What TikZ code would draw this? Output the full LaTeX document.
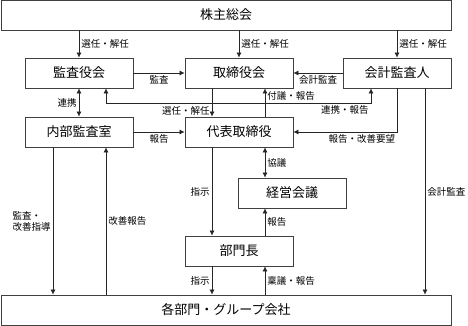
\documentclass[tikz,border=0pt]{standalone}
\usepackage{fontspec}
\setmainfont{Noto Sans CJK JP}
\usetikzlibrary{arrows.meta,positioning,calc}
\tikzset{
  orgbox/.style={draw=black!75, line width=0.8pt, minimum width=108pt, minimum height=30pt, inner sep=0pt, font=\fontsize{13}{15}\selectfont},
  widebox/.style={orgbox, minimum width=450pt},
  arrow/.style={-{Latex[length=5pt,width=5pt]}, line width=0.6pt, draw=black!85},
  dblarrow/.style={{Latex[length=5pt,width=5pt]}-{Latex[length=5pt,width=5pt]}, line width=0.6pt, draw=black!85},
  lbl/.style={font=\fontsize{9.5}{11}\selectfont, inner sep=2pt, align=left}
}

\begin{document}
\begin{tikzpicture}[x=1pt, y=-1pt]
\useasboundingbox (0,0) rectangle (468,326);
\node[widebox] (gm) at (226,15) {株主総会};
\node[orgbox] (kansa) at (79,73) {監査役会};
\node[orgbox] (tori) at (239,73) {取締役会};
\node[orgbox] (kaikei) at (397,73) {会計監査人};
\node[orgbox] (naibu) at (79,132) {内部監査室};
\node[orgbox] (daihyo) at (239,132) {代表取締役};
\node[orgbox] (keiei) at (292,193) {経営会議};
\node[orgbox] (bucho) at (239,251) {部門長};
\node[widebox] (kakubu) at (226,310) {各部門・グループ会社};
% 株主総会から
\draw[arrow] (gm.south -| kansa.north) -- (kansa.north) node[lbl, midway, right] (l1) {選任・解任};
\draw[arrow] (gm.south -| tori.north) -- (tori.north) node[lbl, midway, right] (l2) {選任・解任};
\draw[arrow] (gm.south -| kaikei.north) -- (kaikei.north) node[lbl, midway, right] (l3) {選任・解任};
% 監査
\draw[arrow] (kansa.east) -- (tori.west) node[lbl, midway, below] (l4) {監査};
\draw[arrow] (kaikei.west) -- (tori.east) node[lbl, midway, below] (l5) {会計監査};
\draw[dblarrow] (kansa.south) -- (naibu.north) node[lbl, midway, left] (l6) {連携};
\draw[arrow] ([xshift=-27pt]tori.south) -- ([xshift=-27pt]daihyo.north) node[lbl, pos=0.78, left] (l7) {選任・解任};
\draw[arrow] ([xshift=26pt]daihyo.north) -- ([xshift=26pt]tori.south) node[lbl, pos=0.72, right] (l8) {付議・報告};
\draw[dblarrow] ([xshift=27pt]kansa.south) -- ++(0,15) coordinate (c1) -| ([xshift=-26pt]kaikei.south) node[lbl, pos=0.5, below left] (l9) {連携・報告};
\draw[arrow] (kaikei.south) |- (daihyo.east) node[lbl, pos=0.67, below] (l10) {報告・改善要望};
\draw[arrow] (naibu.east) -- (daihyo.west) node[lbl, midway, below] (l11) {報告};
% 執行
\draw[dblarrow] ([xshift=26pt]daihyo.south) -- ([xshift=26pt]daihyo.south |- keiei.north) node[lbl, midway, right] (l12) {協議};
\draw[arrow] ([xshift=-27pt]daihyo.south) -- ([xshift=-27pt]bucho.north) node[lbl, midway, left] (l13) {指示};
\draw[arrow] ([xshift=-27pt]bucho.south) -- ([xshift=-27pt]kakubu.north -| bucho.south) node[lbl, midway, left] (l14) {指示};
\draw[arrow] ([xshift=26pt]bucho.north) -- ([xshift=26pt]bucho.north |- keiei.south) node[lbl, midway, right] (l15) {報告};
\draw[arrow] ([xshift=26pt]bucho.south |- kakubu.north) -- ([xshift=26pt]bucho.south) node[lbl, midway, right] (l16) {稟議・報告};
% 各部門へ
\draw[arrow] ([xshift=28pt]kaikei.south) -- ([xshift=28pt]kaikei.south |- kakubu.north) node[lbl, midway, right] (l17) {会計監査};
\draw[arrow] ([xshift=-26pt]naibu.south) -- ([xshift=-26pt]naibu.south |- kakubu.north) node[lbl, midway, left] (l18) {監査・\\改善指導};
\draw[arrow] ([xshift=27pt]naibu.south |- kakubu.north) -- ([xshift=27pt]naibu.south) node[lbl, midway, right] (l19) {改善報告};
\end{tikzpicture}
\end{document}
